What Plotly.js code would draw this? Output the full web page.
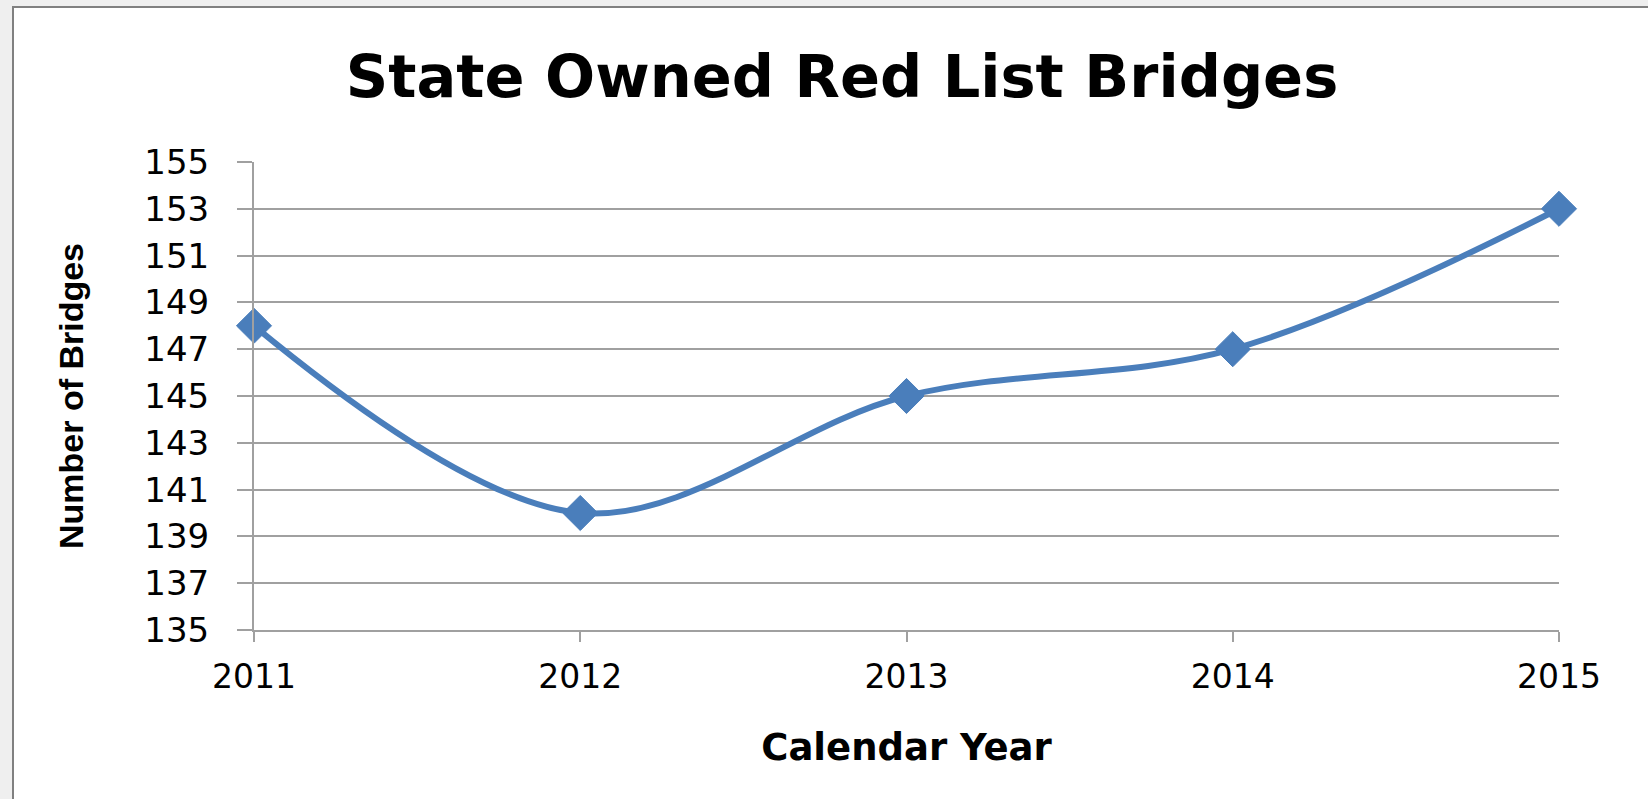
<!DOCTYPE html>
<html>
<head>
<meta charset="utf-8">
<script src="https://cdn.plot.ly/plotly-3.0.1.min.js"></script>
<style>
  html, body { margin: 0; padding: 0; width: 1648px; height: 799px; overflow: hidden; background: #efefef; }
  #frame { position: absolute; left: 12px; top: 6px; width: 1700px; height: 900px; background: #ffffff;
           border-left: 2px solid #808080; border-top: 2px solid #808080; }
  #chart { position: absolute; left: 0; top: 0; width: 1648px; height: 799px; }
</style>
</head>
<body>
<div id="frame"></div>
<div id="chart"></div>
<script>
const years = [2011, 2012, 2013, 2014, 2015];
const yearLabels = ["2011", "2012", "2013", "2014", "2015"];
const bridges = [148, 140, 145, 147, 153];
const yTicks = [135, 137, 139, 141, 143, 145, 147, 149, 151, 153, 155];

const trace = {
  x: years,
  y: bridges,
  type: 'scatter',
  mode: 'lines+markers',
  line: { color: '#4A7EBB', width: 6, shape: 'spline', smoothing: 1 },
  marker: { symbol: 'diamond', size: 27, color: '#4A7EBB', line: { color: '#4A7EBB', width: 1 } },
  cliponaxis: false,
  hoverinfo: 'x+y'
};

const gridColor = '#a0a0a0';

const layout = {
  width: 1648,
  height: 799,
  paper_bgcolor: 'rgba(0,0,0,0)',
  plot_bgcolor: 'rgba(0,0,0,0)',
  showlegend: false,
  margin: { l: 254, r: 89, t: 162, b: 169, pad: 0 },
  title: {
    text: '<b>State Owned Red List Bridges</b>',
    font: { family: 'DejaVu Sans', size: 59, color: '#000000' },
    x: 842 / 1648, xanchor: 'center', xref: 'container',
    y: 1 - 76 / 799, yanchor: 'middle'
  },
  xaxis: {
    type: 'linear',
    range: [2011, 2015],
    tickvals: years,
    ticktext: yearLabels,
    showgrid: false,
    zeroline: false,
    showline: true,
    linecolor: gridColor,
    linewidth: 2,
    ticks: 'outside',
    ticklen: 10,
    tickwidth: 2,
    tickcolor: gridColor,
    ticklabelstandoff: 6,
    tickfont: { family: 'DejaVu Sans', size: 33, color: '#000000' },
    title: {
      text: '<b>Calendar Year</b>',
      font: { family: 'DejaVu Sans', size: 37, color: '#000000' },
      standoff: 40
    },
    fixedrange: true
  },
  yaxis: {
    range: [135, 155],
    tickvals: yTicks,
    showgrid: true,
    gridcolor: gridColor,
    gridwidth: 1.5,
    zeroline: false,
    showline: true,
    linecolor: gridColor,
    linewidth: 2,
    ticks: 'outside',
    ticklen: 15,
    tickwidth: 1.5,
    tickcolor: gridColor,
    ticklabelstandoff: 21,
    tickfont: { family: 'DejaVu Sans', size: 34, color: '#000000' },
    title: {
      text: '<b>Number of Bridges</b>',
      font: { family: 'Liberation Sans', size: 34, color: '#000000' },
      standoff: 50
    },
    fixedrange: true
  }
};

Plotly.newPlot('chart', [trace], layout, { displayModeBar: false, staticPlot: false });
</script>
</body>
</html>
